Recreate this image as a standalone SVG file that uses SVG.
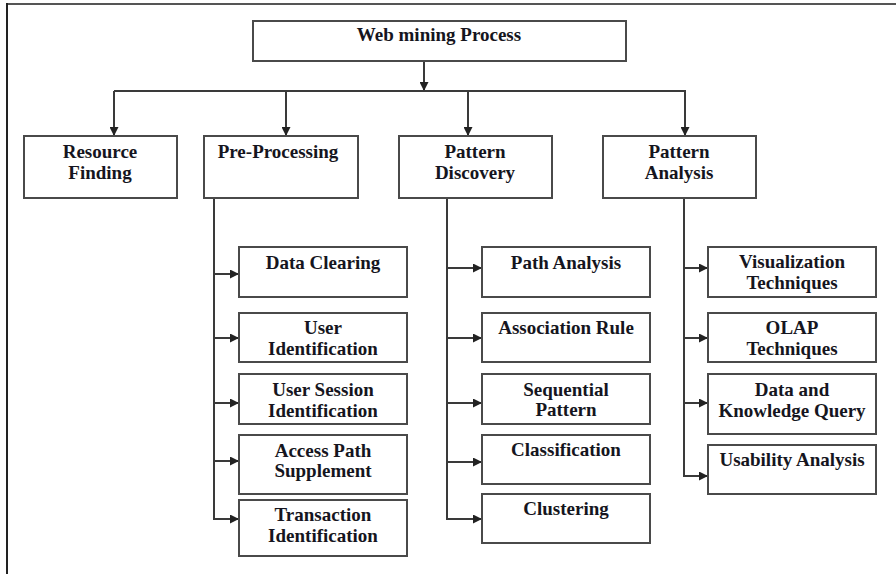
<svg xmlns="http://www.w3.org/2000/svg" width="896" height="574" viewBox="0 0 896 574">
<style>
.box{fill:#fff;stroke:#4a4a4a;stroke-width:2}
.t{font-family:"Liberation Serif","Times New Roman",serif;font-weight:bold;font-size:19px;fill:#151520;text-anchor:middle}
.c{fill:none;stroke:#3a3a3a;stroke-width:2}
.frame{stroke-width:2;fill:none}
</style>
<defs>
<marker id="ah" markerUnits="userSpaceOnUse" markerWidth="9" markerHeight="9" refX="9" refY="4.5" orient="auto">
<path d="M0,0 L9,4.5 L0,9 z" fill="#222"/>
</marker>
</defs>
<rect width="896" height="574" fill="#fff"/>
<line class="frame" x1="7" y1="4" x2="896" y2="4" stroke="#555"/>
<line class="frame" x1="7" y1="3" x2="7" y2="574" stroke="#222"/>

<g id="connectors">
<line class="c" x1="424" y1="61" x2="424" y2="91" marker-end="url(#ah)"/>
<polyline class="c" points="114,91 685,91 685,136" marker-end="url(#ah)"/>
<line class="c" x1="114" y1="91" x2="114" y2="136" marker-end="url(#ah)"/>
<line class="c" x1="286" y1="91" x2="286" y2="136" marker-end="url(#ah)"/>
<line class="c" x1="468" y1="91" x2="468" y2="136" marker-end="url(#ah)"/>

<polyline class="c" points="214,198 214,519 239,519" marker-end="url(#ah)"/>
<line class="c" x1="214" y1="274" x2="239" y2="274" marker-end="url(#ah)"/>
<line class="c" x1="214" y1="338" x2="239" y2="338" marker-end="url(#ah)"/>
<line class="c" x1="214" y1="403" x2="239" y2="403" marker-end="url(#ah)"/>
<line class="c" x1="214" y1="461" x2="239" y2="461" marker-end="url(#ah)"/>

<polyline class="c" points="447,198 447,519 482,519" marker-end="url(#ah)"/>
<line class="c" x1="447" y1="268" x2="482" y2="268" marker-end="url(#ah)"/>
<line class="c" x1="447" y1="338" x2="482" y2="338" marker-end="url(#ah)"/>
<line class="c" x1="447" y1="403" x2="482" y2="403" marker-end="url(#ah)"/>
<line class="c" x1="447" y1="462" x2="482" y2="462" marker-end="url(#ah)"/>

<polyline class="c" points="684,198 684,476 708,476" marker-end="url(#ah)"/>
<line class="c" x1="684" y1="268" x2="708" y2="268" marker-end="url(#ah)"/>
<line class="c" x1="684" y1="338" x2="708" y2="338" marker-end="url(#ah)"/>
<line class="c" x1="684" y1="403" x2="708" y2="403" marker-end="url(#ah)"/>
</g>

<g id="web-mining-process"><rect class="box" x="253" y="21" width="373" height="40"/><text class="t" x="439" y="41">Web mining Process</text></g>

<g id="resource-finding"><rect class="box" x="24" y="136" width="153" height="62"/><text class="t" x="100" y="158">Resource</text><text class="t" x="100" y="179">Finding</text></g>
<g id="pre-processing"><rect class="box" x="204" y="136" width="154" height="62"/><text class="t" x="278" y="158">Pre-Processing</text></g>
<g id="pattern-discovery"><rect class="box" x="399" y="136" width="153" height="62"/><text class="t" x="475" y="158">Pattern</text><text class="t" x="475" y="179">Discovery</text></g>
<g id="pattern-analysis"><rect class="box" x="603" y="136" width="153" height="62"/><text class="t" x="679" y="158">Pattern</text><text class="t" x="679" y="179">Analysis</text></g>

<g id="data-clearing"><rect class="box" x="239" y="247" width="168" height="50"/><text class="t" x="323" y="269">Data Clearing</text></g>
<g id="user-identification"><rect class="box" x="239" y="313" width="168" height="49"/><text class="t" x="323" y="334">User</text><text class="t" x="323" y="355">Identification</text></g>
<g id="user-session-identification"><rect class="box" x="239" y="374" width="168" height="50"/><text class="t" x="323" y="396">User Session</text><text class="t" x="323" y="417">Identification</text></g>
<g id="access-path-supplement"><rect class="box" x="239" y="435" width="168" height="59"/><text class="t" x="323" y="457">Access Path</text><text class="t" x="323" y="477">Supplement</text></g>
<g id="transaction-identification"><rect class="box" x="239" y="500" width="168" height="56"/><text class="t" x="323" y="521">Transaction</text><text class="t" x="323" y="542">Identification</text></g>

<g id="path-analysis"><rect class="box" x="482" y="247" width="168" height="50"/><text class="t" x="566" y="269">Path Analysis</text></g>
<g id="association-rule"><rect class="box" x="482" y="313" width="168" height="49"/><text class="t" x="566" y="334">Association Rule</text></g>
<g id="sequential-pattern"><rect class="box" x="482" y="374" width="168" height="50"/><text class="t" x="566" y="396">Sequential</text><text class="t" x="566" y="416">Pattern</text></g>
<g id="classification"><rect class="box" x="482" y="435" width="168" height="49"/><text class="t" x="566" y="456">Classification</text></g>
<g id="clustering"><rect class="box" x="482" y="494" width="168" height="49"/><text class="t" x="566" y="515">Clustering</text></g>

<g id="visualization-techniques"><rect class="box" x="708" y="247" width="168" height="50"/><text class="t" x="792" y="268">Visualization</text><text class="t" x="792" y="289">Techniques</text></g>
<g id="olap-techniques"><rect class="box" x="708" y="313" width="168" height="49"/><text class="t" x="792" y="334">OLAP</text><text class="t" x="792" y="355">Techniques</text></g>
<g id="data-knowledge-query"><rect class="box" x="708" y="374" width="168" height="60"/><text class="t" x="792" y="396">Data and</text><text class="t" x="792" y="417">Knowledge Query</text></g>
<g id="usability-analysis"><rect class="box" x="708" y="445" width="168" height="49"/><text class="t" x="792" y="466">Usability Analysis</text></g>
</svg>
